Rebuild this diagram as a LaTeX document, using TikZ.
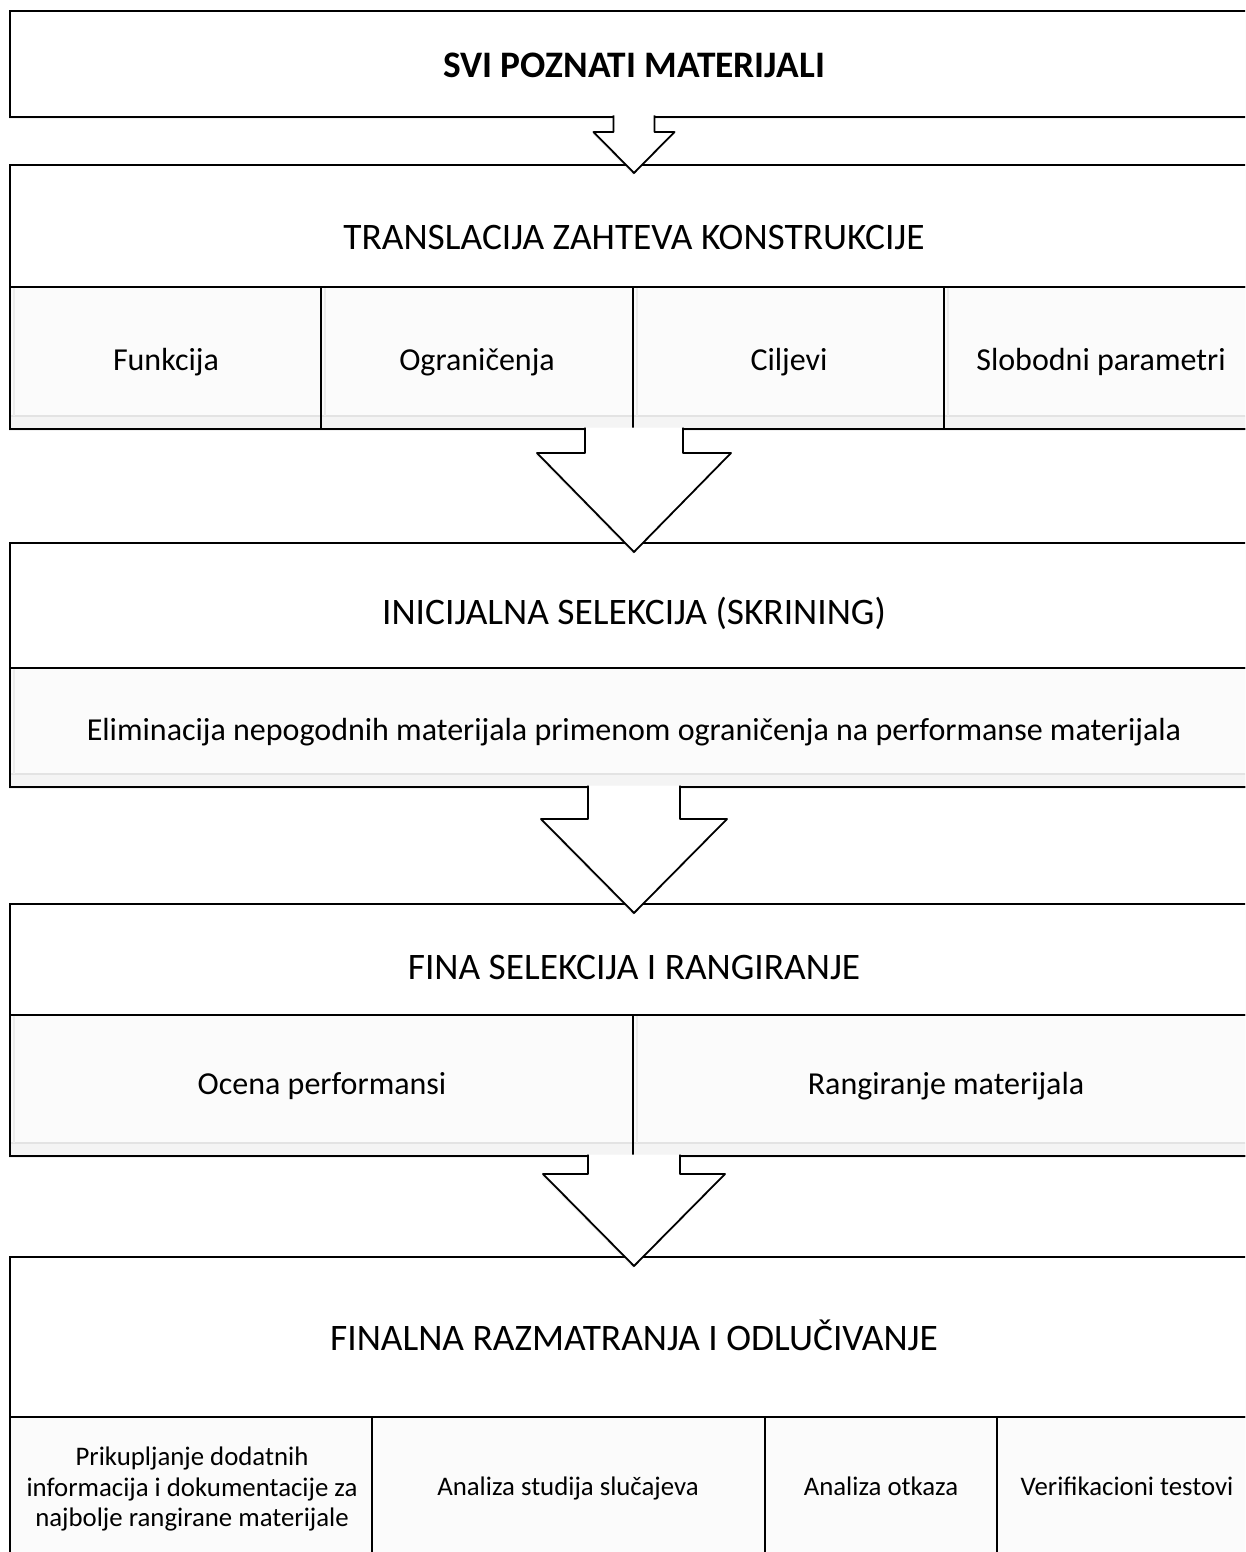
\documentclass[tikz,border=0pt]{standalone}
\usepackage{fontspec}
\setmainfont{Carlito}
\usetikzlibrary{calc,shadows}

\definecolor{cellfill}{HTML}{FBFBFB}
\definecolor{bevel}{HTML}{E3E3E3}
\definecolor{bevelside}{HTML}{EDEDED}

% block arrow hanging from the bottom of one box into the top of the next
% #1 upper box, #2 lower box, #3 half stem width, #4 stem length,
% #5 half head width, #6 overshoot of the tip into the lower box
\newcommand\flowarrow[6]{%
  \draw[blockarrow]
    ($(#1.south)+(-#3,-1.5)$) -- ($(#1.south)+(-#3,#4)$) -- ($(#1.south)+(-#5,#4)$)
    -- ($(#2.north)+(0,#6)$)
    -- ($(#1.south)+(#5,#4)$) -- ($(#1.south)+(#3,#4)$) -- ($(#1.south)+(#3,-1.5)$);
}
% light inner bevel of a cell
\newcommand\cellbevel[1]{%
  \fill[bevelside!60] ([yshift=13pt]#1.south west) rectangle ([yshift=1pt]#1.south east);
  \draw[bevel, line width=1.6pt] ([xshift=1pt,yshift=13pt]#1.south west) -- ([xshift=-1pt,yshift=13pt]#1.south east);
  \draw[bevelside, line width=2.5pt] ([xshift=4pt,yshift=13pt]#1.south west) -- ([xshift=4pt,yshift=-1pt]#1.north west);
}

\begin{document}
\begin{tikzpicture}[x=1pt,y=-1pt,
  frame/.style={draw=black, line width=1.8pt, fill=white, inner sep=0pt, outer sep=0pt,
    anchor=north west, drop shadow={opacity=0.12, shadow xshift=-1pt, shadow yshift=-2pt}},
  cell/.style={draw=black, line width=1.8pt, fill=cellfill, inner sep=0pt, outer sep=0pt,
    anchor=north west},
  blockarrow/.style={draw=black, fill=white, line width=1.8pt, line join=round,
    drop shadow={opacity=0.12, shadow xshift=-1pt, shadow yshift=-2pt}},
  headtxt/.style={anchor=base, inner sep=0pt, font=\fontsize{37.4}{45}\selectfont},
  celltxt/.style={anchor=base, inner sep=0pt, font=\fontsize{32}{38}\selectfont},
  smalltxt/.style={inner sep=0pt, align=center, font=\fontsize{26.8}{30.5}\selectfont},
]
\useasboundingbox (0,0) rectangle (1245,1552);
\clip (0,0) rectangle (1245,1552);

% outer boxes
\node[frame, minimum width=1248pt, minimum height=106pt] (b1) at (10,11) {};
\node[frame, minimum width=1248pt, minimum height=264pt] (b2) at (10,165) {};
\node[frame, minimum width=1248pt, minimum height=244pt] (b3) at (10,543) {};
\node[frame, minimum width=1248pt, minimum height=252pt] (b4) at (10,904) {};
\node[frame, minimum width=1248pt, minimum height=360pt] (b5) at (10,1257) {};

% cells of the second box
\node[cell, minimum width=311pt, minimum height=142pt] (c21) at (10,287) {};
\node[cell, minimum width=312pt, minimum height=142pt] (c22) at (321,287) {};
\node[cell, minimum width=311pt, minimum height=142pt] (c23) at (633,287) {};
\node[cell, minimum width=314pt, minimum height=142pt] (c24) at (944,287) {};
% cell of the third box
\node[cell, minimum width=1248pt, minimum height=119pt] (c31) at (10,668) {};
% cells of the fourth box
\node[cell, minimum width=623pt, minimum height=141pt] (c41) at (10,1015) {};
\node[cell, minimum width=625pt, minimum height=141pt] (c42) at (633,1015) {};
% cells of the fifth box
\node[cell, minimum width=362pt, minimum height=200pt] (c51) at (10,1417) {};
\node[cell, minimum width=393pt, minimum height=200pt] (c52) at (372,1417) {};
\node[cell, minimum width=232pt, minimum height=200pt] (c53) at (765,1417) {};
\node[cell, minimum width=261pt, minimum height=200pt] (c54) at (997,1417) {};

\cellbevel{c21}\cellbevel{c22}\cellbevel{c23}\cellbevel{c24}
\cellbevel{c31}
\cellbevel{c41}\cellbevel{c42}
% redraw the cell borders over the bevels
\foreach \c in {c21,c22,c23,c24,c31,c41,c42,c51,c52,c53,c54}
  \draw[black, line width=1.8pt] (\c.north west) rectangle (\c.south east);

% headings
\node[headtxt] (t1) at (634,78) {\textbf{SVI POZNATI MATERIJALI}};
\node[headtxt] (t2) at (634,249) {TRANSLACIJA ZAHTEVA KONSTRUKCIJE};
\node[headtxt] (t3) at (634,624) {INICIJALNA SELEKCIJA (SKRINING)};
\node[headtxt] (t4) at (634,979) {FINA SELEKCIJA I RANGIRANJE};
\node[headtxt] (t5) at (634,1350) {FINALNA RAZMATRANJA I ODLUČIVANJE};

% cell texts
\node[celltxt] (s21) at (166,370) {Funkcija};
\node[celltxt] (s22) at (477,370) {Ograničenja};
\node[celltxt] (s23) at (789,370) {Ciljevi};
\node[celltxt] (s24) at (1101,370) {Slobodni parametri};
\node[celltxt] (s31) at (634,740) {Eliminacija nepogodnih materijala primenom ograničenja na performanse materijala};
\node[celltxt] (s41) at (322,1094) {Ocena performansi};
\node[celltxt] (s42) at (946,1094) {Rangiranje materijala};
\node[smalltxt] (s51) at (192,1489) {Prikupljanje dodatnih\\informacija i dokumentacije za\\najbolje rangirane materijale};
\node[smalltxt, anchor=base] (s52) at (568,1495) {Analiza studija slučajeva};
\node[smalltxt, anchor=base] (s53) at (881,1495) {Analiza otkaza};
\node[smalltxt, anchor=base] (s54) at (1127,1495) {Verifikacioni testovi};

% block arrows between the stages
\flowarrow{b1}{b2}{20.5}{15}{40.5}{8}
\flowarrow{b2}{b3}{49}{24}{97}{9}
\flowarrow{b3}{b4}{46}{32}{93}{9}
\flowarrow{b4}{b5}{46}{18}{91}{9}
\end{tikzpicture}
\end{document}
